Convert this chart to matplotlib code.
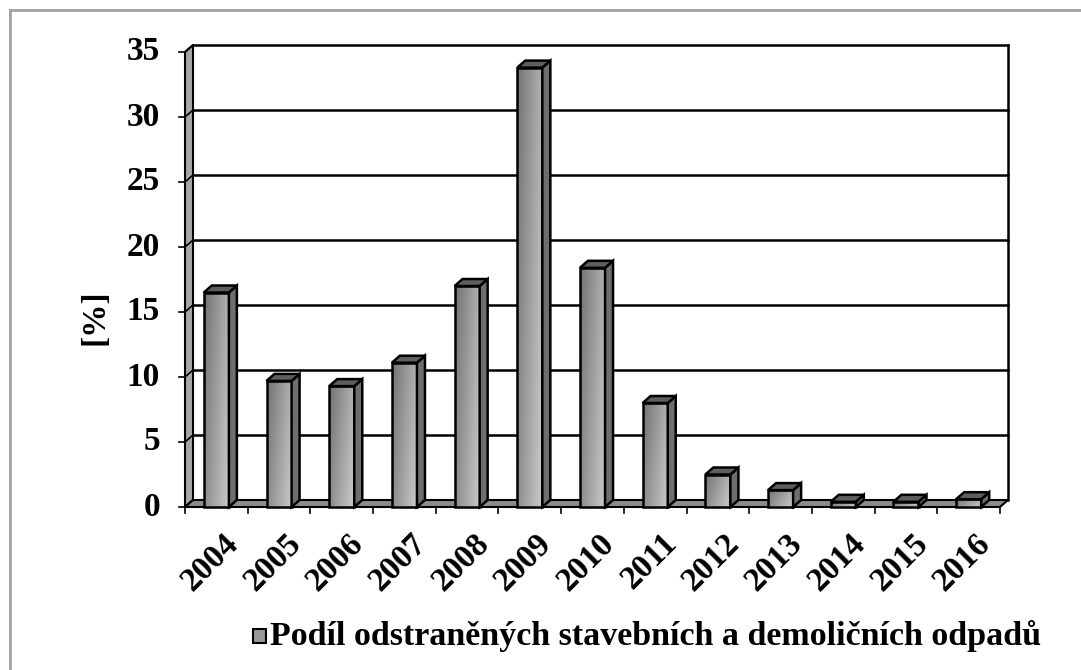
import numpy as np
import matplotlib.pyplot as plt
from matplotlib.patches import Polygon

years = ['2004', '2005', '2006', '2007', '2008', '2009', '2010',
         '2011', '2012', '2013', '2014', '2015', '2016']
share = [16.5, 9.7, 9.3, 11.1, 17.0, 33.8, 18.4, 8.0, 2.5, 1.3, 0.4, 0.4, 0.6]
yticks = [0, 5, 10, 15, 20, 25, 30, 35]
legend_label = 'Podíl odstraněných stavebních a demoličních odpadů'

plt.rcParams['font.family'] = ['Liberation Serif', 'DejaVu Serif']
plt.rcParams['font.weight'] = 'bold'

W, H = 1081, 670
fig = plt.figure(figsize=(W / 100, H / 100), dpi=100)

# front plane of the plot area in pixels
x0, x1 = 185, 1000
y0, y1 = 507, 52
ax = fig.add_axes([x0 / W, 1 - y0 / H, (x1 - x0) / W, (y0 - y1) / H])
n = len(years)
ymax = 35
ax.set_xlim(0, n)
ax.set_ylim(0, ymax)
ax.axis('off')

# depth offset of the 3d look, in data units
dx = 8 / ((x1 - x0) / n)
dy = 7 / ((y0 - y1) / ymax)

def poly(pts, fc, z, lw=1.5):
    ax.add_patch(Polygon(pts, closed=True, facecolor=fc, edgecolor='black',
                         linewidth=lw, zorder=z, clip_on=False))

# back wall gridlines and edges
for t in yticks[1:]:
    ax.plot([dx, n + dx], [t + dy, t + dy], color='black', lw=1.8, zorder=1, clip_on=False)
ax.plot([n + dx, n + dx], [dy, ymax + dy], color='black', lw=1.8, zorder=1, clip_on=False)

# left wall
poly([(0, 0), (dx, dy), (dx, ymax + dy), (0, ymax)], '#a6a6a6', 2)
for t in yticks:
    ax.plot([0, dx], [t, t + dy], color='black', lw=1.2, zorder=2.5, clip_on=False)
    ax.plot([-0.1, 0], [t, t], color='black', lw=1.2, zorder=2.5, clip_on=False)

# floor
poly([(0, 0), (n, 0), (n + dx, dy), (dx, dy)], '#8c8c8c', 3)
for i in range(n + 1):
    ax.plot([i, i], [0, -0.45], color='black', lw=1.2, zorder=3, clip_on=False)

# bars
bw = 0.4
grad = np.linspace(0, 1, 60)
gx, gy = np.meshgrid(grad, grad)
shade = 0.45 + 0.25 * gx + 0.1 * gy
for i, v in enumerate(share):
    a = i + 0.5 - bw / 2
    b = i + 0.5 + bw / 2
    ax.imshow(shade, cmap='gray', vmin=0, vmax=1, extent=(a, b, 0, v),
              aspect='auto', origin='upper', zorder=4, interpolation='bilinear')
    poly([(a, 0), (b, 0), (b, v), (a, v)], 'none', 4.5, lw=1.8)
    poly([(b, 0), (b + dx, dy), (b + dx, v + dy), (b, v)], '#6e6e6e', 4.5, lw=1.8)
    poly([(a, v), (a + dx, v + dy), (b + dx, v + dy), (b, v)], '#5e5e5e', 4.5, lw=1.8)
ax.set_xlim(0, n)
ax.set_ylim(0, ymax)

fs = 24
# tick labels
for t in yticks:
    ax.text(-0.4, t, str(t), ha='right', va='center', fontsize=fs,
            fontweight='bold', clip_on=False)
for i, yr in enumerate(years):
    ax.text(i + 0.6, -1.6, yr, ha='right', va='top', rotation=45,
            rotation_mode='anchor', fontsize=fs, fontweight='bold')

fig.text(95 / W, 1 - 317 / H, '[%]', rotation=90, ha='center', va='center',
         fontsize=fs, fontweight='bold')

# legend
lx, ly = 253, 636
fig.patches.append(Polygon([(lx / W, 1 - (ly + 7) / H), ((lx + 13) / W, 1 - (ly + 7) / H),
                            ((lx + 13) / W, 1 - (ly - 7) / H), (lx / W, 1 - (ly - 7) / H)],
                           closed=True, transform=fig.transFigure, facecolor='#999999',
                           edgecolor='black', linewidth=1.5))
fig.text((lx + 17) / W, 1 - ly / H, legend_label, ha='left', va='center',
         fontsize=24.5, fontweight='bold')

# outer frame (only top and left visible)
fig.add_artist(plt.Line2D([9.5 / W, 1.0], [1 - 9.5 / H, 1 - 9.5 / H],
                          transform=fig.transFigure, color='#a0a0a0', lw=2))
fig.add_artist(plt.Line2D([9.5 / W, 9.5 / W], [0, 1 - 9.5 / H],
                          transform=fig.transFigure, color='#a0a0a0', lw=2))

fig.savefig('out.png', dpi=100)
